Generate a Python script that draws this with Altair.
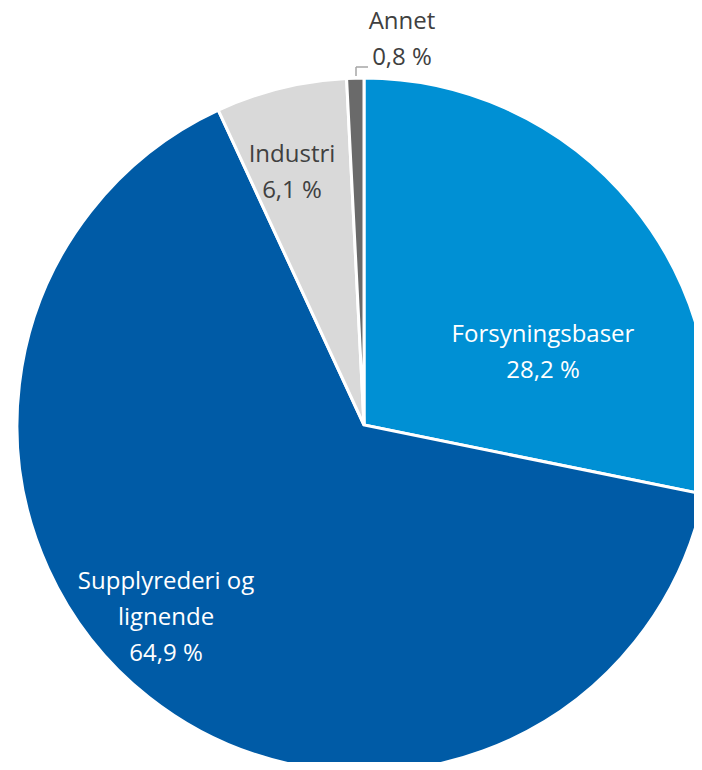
import altair as alt
import pandas as pd

categories = ["Forsyningsbaser", "Supplyrederi og lignende", "Industri", "Annet"]
values = [28.2, 64.9, 6.1, 0.8]
label_texts = [["Forsyningsbaser", "28,2 %"],
               ["Supplyrederi og", "lignende", "64,9 %"],
               ["Industri", "6,1 %"],
               ["Annet", "0,8 %"]]
colors = ["#0090D4", "#005BA6", "#D9D9D9", "#6A6A6A"]
text_colors = ["white", "white", "#404040", "#404040"]

df = pd.DataFrame({"category": categories, "value": values, "idx": list(range(len(values)))})

CX, CY, R = 356, 417, 347
LINE = 36

pie = alt.Chart(df).mark_arc(radius=R, stroke="white", strokeWidth=3).encode(
    theta=alt.Theta("value:Q", stack=True),
    color=alt.Color("category:N", scale=alt.Scale(domain=categories, range=colors), legend=None),
    order=alt.Order("idx:Q"),
    x=alt.value(CX),
    y=alt.value(CY),
)

# first-line centre of each label block
label_pos = [(535, 327), (158, 574), (284, 147), (394, 14)]
layers = [pie]
base = alt.Chart(pd.DataFrame({"a": [0]}))
for txt, (lx, ly), tc in zip(label_texts, label_pos, text_colors):
    for i, line in enumerate(txt):
        layers.append(
            base.mark_text(
                text=line, font="Open Sans", fontSize=24,
                align="center", baseline="middle", color=tc,
            ).encode(x=alt.value(lx), y=alt.value(ly + i * LINE))
        )

leader_v = base.mark_rule(color="#A6A6A6", strokeWidth=1.5).encode(
    x=alt.value(348), y=alt.value(68), y2=alt.value(59))
leader_h = base.mark_rule(color="#A6A6A6", strokeWidth=1.5).encode(
    x=alt.value(348), x2=alt.value(360), y=alt.value(59))
layers += [leader_v, leader_h]

chart = alt.layer(*layers).properties(
    width=686, height=754, padding=0, autosize=alt.AutoSizeParams(type="none")
).configure_view(stroke=None)

chart.save("out.html", embed_options={"renderer": "svg", "actions": False})
